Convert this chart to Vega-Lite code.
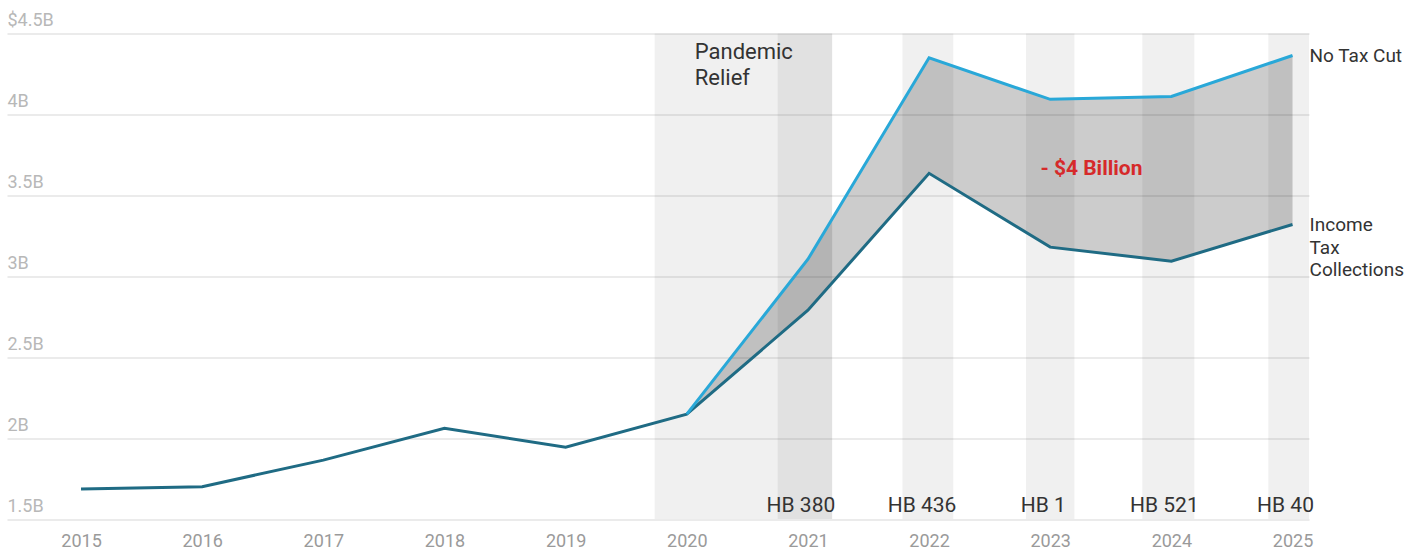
{
  "$schema": "https://vega.github.io/schema/vega-lite/v6.json",
  "width": 1302,
  "height": 485.5,
  "autosize": {"type": "none"},
  "padding": {"left": 7, "top": 33.5, "right": 112, "bottom": 31},
  "background": "white",
  "config": {
    "font": "Roboto",
    "view": {"stroke": null}
  },
  "datasets": {
    "series": [
      {"year": 2015, "income": 1.685, "notaxcut": null},
      {"year": 2016, "income": 1.70, "notaxcut": null},
      {"year": 2017, "income": 1.864, "notaxcut": null},
      {"year": 2018, "income": 2.06, "notaxcut": null},
      {"year": 2019, "income": 1.944, "notaxcut": null},
      {"year": 2020, "income": 2.148, "notaxcut": 2.148},
      {"year": 2021, "income": 2.79, "notaxcut": 3.105},
      {"year": 2022, "income": 3.636, "notaxcut": 4.35},
      {"year": 2023, "income": 3.18, "notaxcut": 4.093},
      {"year": 2024, "income": 3.093, "notaxcut": 4.111},
      {"year": 2025, "income": 3.32, "notaxcut": 4.364}
    ],
    "bands": [
      {"start": 2019.735, "end": 2021.2, "name": "Pandemic Relief"},
      {"start": 2020.75, "end": 2021.2, "name": "HB 380"},
      {"start": 2021.78, "end": 2022.2, "name": "HB 436"},
      {"start": 2022.8, "end": 2023.2, "name": "HB 1"},
      {"start": 2023.76, "end": 2024.19, "name": "HB 521"},
      {"start": 2024.8, "end": 2025.136, "name": "HB 40"}
    ],
    "bills": [
      {"year": 2021, "label": "HB 380"},
      {"year": 2022, "label": "HB 436"},
      {"year": 2023, "label": "HB 1"},
      {"year": 2024, "label": "HB 521"},
      {"year": 2025, "label": "HB 40"}
    ]
  },
  "encoding": {
    "x": {
      "field": "year",
      "type": "quantitative",
      "scale": {"domain": [2014.389, 2025.136], "nice": false, "zero": false},
      "axis": {
        "title": null,
        "values": [2015, 2016, 2017, 2018, 2019, 2020, 2021, 2022, 2023, 2024, 2025],
        "format": "d",
        "grid": false,
        "domain": false,
        "ticks": false,
        "tickSize": 0,
        "labelFlush": false,
        "labelOverlap": false,
        "labelColor": "#9a9a9a",
        "labelFontSize": 18,
        "labelFont": "Roboto",
        "labelBaseline": "middle",
        "labelPadding": 22
      }
    }
  },
  "layer": [
    {
      "data": {"name": "bands"},
      "mark": {"type": "rect", "fill": "#000000", "fillOpacity": 0.06},
      "encoding": {
        "x": {"field": "start", "type": "quantitative"},
        "x2": {"field": "end"}
      }
    },
    {
      "data": {"name": "series"},
      "transform": [{"filter": "datum.notaxcut != null"}],
      "mark": {"type": "area", "fill": "#000000", "fillOpacity": 0.2},
      "encoding": {
        "y": {
          "field": "notaxcut",
          "type": "quantitative",
          "scale": {"domain": [1.5, 4.5], "nice": false, "zero": false},
          "axis": {
            "title": null,
            "values": [1.5, 2, 2.5, 3, 3.5, 4, 4.5],
            "labelExpr": "(datum.value == 4.5 ? '$' : '') + format(datum.value, '~g') + 'B'",
            "grid": true,
            "gridColor": "#ebebeb",
            "gridWidth": 2,
            "domain": false,
            "ticks": false,
            "tickSize": 0,
            "labelAlign": "left",
            "labelBaseline": "alphabetic",
            "labelOffset": -8,
            "labelPadding": 0,
            "labelColor": "#b8b8b8",
            "labelFontSize": 18,
            "labelFont": "Roboto",
            "labelOverlap": false,
            "labelFlush": false
          }
        },
        "y2": {"field": "income"}
      }
    },
    {
      "data": {"name": "series"},
      "mark": {"type": "line", "color": "#1f6b84", "strokeWidth": 3, "strokeJoin": "miter"},
      "encoding": {
        "y": {"field": "income", "type": "quantitative"}
      }
    },
    {
      "data": {"name": "series"},
      "transform": [{"filter": "datum.notaxcut != null"}],
      "mark": {"type": "line", "color": "#29a8d8", "strokeWidth": 3, "strokeJoin": "miter"},
      "encoding": {
        "y": {"field": "notaxcut", "type": "quantitative"}
      }
    },
    {
      "data": {"name": "series"},
      "transform": [{"filter": "datum.year == 2025"}],
      "mark": {"type": "text", "align": "left", "baseline": "middle", "dx": 17, "fontSize": 19, "color": "#333333", "font": "Roboto"},
      "encoding": {
        "y": {"field": "notaxcut", "type": "quantitative"},
        "text": {"value": "No Tax Cut"}
      }
    },
    {
      "data": {"name": "series"},
      "transform": [{"filter": "datum.year == 2025"}],
      "mark": {"type": "text", "align": "left", "baseline": "top", "dx": 17, "dy": -8, "fontSize": 19, "lineHeight": 22.5, "lineBreak": "\n", "color": "#333333", "font": "Roboto"},
      "encoding": {
        "y": {"field": "income", "type": "quantitative"},
        "text": {"value": "Income\nTax\nCollections"}
      }
    },
    {
      "data": {"name": "bills"},
      "mark": {"type": "text", "align": "center", "baseline": "alphabetic", "dx": -7, "dy": -7, "fontSize": 21, "color": "#333333", "font": "Roboto"},
      "encoding": {
        "y": {"datum": 1.5, "type": "quantitative"},
        "text": {"field": "label"}
      }
    },
    {
      "data": {"values": [{"year": 2020, "label": "Pandemic\nRelief", "level": 4.5}]},
      "mark": {"type": "text", "align": "left", "baseline": "top", "dx": 8, "dy": 8, "fontSize": 22, "lineHeight": 26.7, "lineBreak": "\n", "color": "#333333", "font": "Roboto"},
      "encoding": {
        "y": {"field": "level", "type": "quantitative"},
        "text": {"field": "label"}
      }
    },
    {
      "data": {"values": [{"year": 2023.34, "label": "- $4 Billion", "level": 3.66}]},
      "mark": {"type": "text", "align": "center", "baseline": "middle", "fontSize": 21, "fontWeight": "bold", "color": "#d62a2a", "font": "Roboto"},
      "encoding": {
        "y": {"field": "level", "type": "quantitative"},
        "text": {"field": "label"}
      }
    }
  ]
}
